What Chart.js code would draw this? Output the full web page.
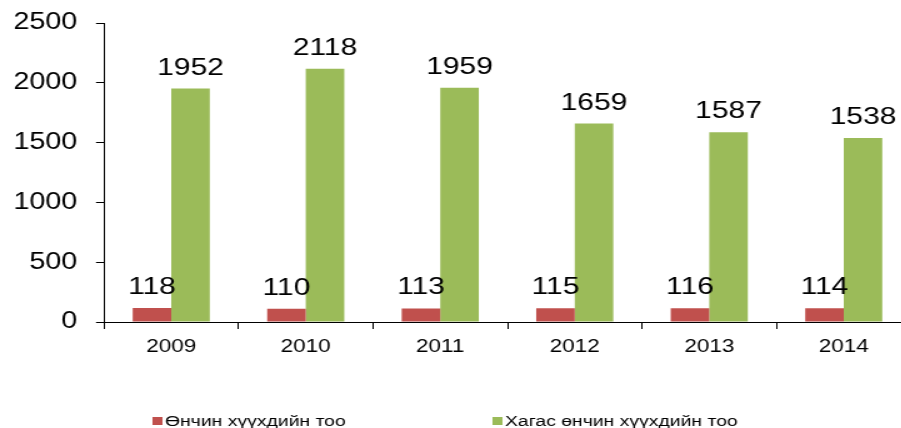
<!DOCTYPE html>
<html lang="mn">
<head>
<meta charset="UTF-8">
<title>Өнчин хүүхдийн тоо</title>
<script src="https://cdn.jsdelivr.net/npm/chart.js"></script>
<style>
    body {
        margin: 0;
        background: #ffffff;
        overflow: hidden;
    }
    /* the source picture is stretched sideways, so the whole chart is too */
    #wrap {
        width: 730px;
        height: 428px;
        transform: scaleX(1.25);
        transform-origin: 0 0;
    }
</style>
</head>
<body>
<div id="wrap"><canvas id="chart" width="730" height="428"></canvas></div>
<script>
    const years = ['2009', '2010', '2011', '2012', '2013', '2014'];
    const orphans = [118, 110, 113, 115, 116, 114];
    const halfOrphans = [1952, 2118, 1959, 1659, 1587, 1538];
    const seriesNames = ['Өнчин хүүхдийн тоо', 'Хагас өнчин хүүхдийн тоо'];
    const yMax = 2500;
    const yStep = 500;

    const FONT = '"Liberation Sans", Arial, sans-serif';

    // numbers above every bar
    const valueLabels = {
        id: 'valueLabels',
        afterDatasetsDraw(chart) {
            const ctx = chart.ctx;
            ctx.save();
            ctx.font = '24px ' + FONT;
            ctx.fillStyle = '#000';
            ctx.textAlign = 'center';
            ctx.textBaseline = 'alphabetic';
            chart.data.datasets.forEach((ds, i) => {
                chart.getDatasetMeta(i).data.forEach((bar, j) => {
                    ctx.fillText(ds.data[j], bar.x, bar.y - 14);
                });
            });
            ctx.restore();
        }
    };

    // legend with wide gap between the two items, like the original
    const spacedLegend = {
        id: 'spacedLegend',
        afterDraw(chart) {
            const ctx = chart.ctx;
            ctx.save();
            ctx.font = '15.5px ' + FONT;
            ctx.textBaseline = 'middle';
            ctx.textAlign = 'left';
            chart.data.datasets.forEach((ds, i) => {
                const x = 122 + i * 272;
                const y = 421;
                ctx.fillStyle = ds.backgroundColor;
                ctx.fillRect(x, y - 4, 8, 8);
                ctx.fillStyle = '#000';
                ctx.fillText(ds.label, x + 10, y + 1);
            });
            ctx.restore();
        }
    };

    new Chart(document.getElementById('chart'), {
        type: 'bar',
        data: {
            labels: years,
            datasets: [
                {
                    label: seriesNames[0],
                    data: orphans,
                    backgroundColor: '#C0504D'
                },
                {
                    label: seriesNames[1],
                    data: halfOrphans,
                    backgroundColor: '#9BBB59'
                }
            ]
        },
        options: {
            responsive: false,
            animation: false,
            devicePixelRatio: 1,
            layout: { padding: { top: 23, right: 1.2, left: 0, bottom: 0 } },
            datasets: { bar: { categoryPercentage: 0.573, barPercentage: 1 } },
            plugins: {
                legend: { display: false },
                tooltip: { enabled: false }
            },
            scales: {
                x: {
                    afterFit: s => { s.height = 106; },
                    border: { color: '#000', width: 1 },
                    grid: { drawOnChartArea: false, color: '#000', tickLength: 7 },
                    ticks: { color: '#000', font: { family: FONT, size: 18 }, padding: 7 }
                },
                y: {
                    min: 0,
                    max: yMax,
                    afterFit: s => {
                        s.width = 83.2;
                        // tick padding should not push the plot down
                        s.paddingTop = 0;
                        s.paddingBottom = 0;
                    },
                    border: { color: '#000', width: 1 },
                    grid: { drawOnChartArea: false, color: '#000', tickLength: 6.4 },
                    ticks: {
                        stepSize: yStep,
                        color: '#000',
                        font: { family: FONT, size: 23 },
                        padding: 15,
                        callback: v => String(v)
                    }
                }
            }
        },
        plugins: [valueLabels, spacedLegend]
    });
</script>
</body>
</html>
